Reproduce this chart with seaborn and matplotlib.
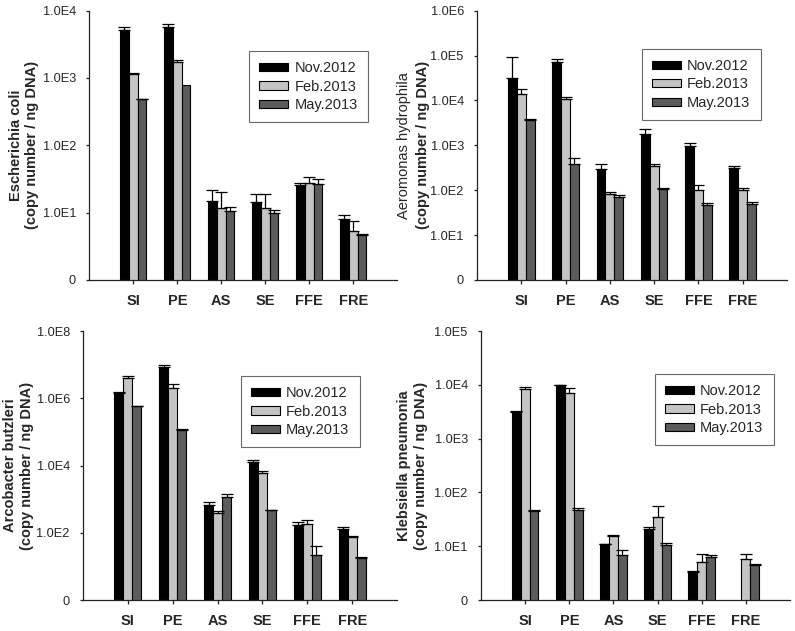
import numpy as np
import pandas as pd
import matplotlib
matplotlib.use('Agg')
import matplotlib.pyplot as plt
import seaborn as sns
from matplotlib.patches import Patch
from matplotlib.ticker import FixedLocator, FixedFormatter, NullLocator

# Data (log scale)
sites = ['SI', 'PE', 'AS', 'SE', 'FFE', 'FRE']
months = ['Nov.2012', 'Feb.2013', 'May.2013']
colors = ['#000000', '#c4c4c4', '#5c5c5c']

# Escherichia coli
ecoli_nov = [5150, 5650, 15.0, 14.4, 25.8, 8.15]
ecoli_feb = [1150, 1700, 11.7, 11.7, 27.3, 5.4]
ecoli_may = [480, 790, 10.7, 9.8, 26.3, 4.6]
ecoli_nov_sd = [500, 690, 6.7, 4.6, 1.7, 1.05]
ecoli_feb_sd = [50, 160, 8.3, 7.3, 6.7, 2.0]
ecoli_may_sd = [15, 0, 1.6, 1.2, 5.3, 0.3]

# Aeromonas hydrophila
aero_nov = [31000, 71600, 301, 1780, 966, 318]
aero_feb = [13600, 10700, 81, 352, 100, 99]
aero_may = [3650, 385, 69.5, 104, 47.5, 48.4]
aero_nov_sd = [64000, 10400, 89, 490, 174, 28]
aero_feb_sd = [4100, 1200, 9, 28, 29, 15]
aero_may_sd = [200, 145, 7.5, 8, 4.5, 7.2]

# Arcobacter butzleri
arco_nov = [1.45e6, 8.7e6, 680, 12700, 176, 131]
arco_feb = [3.9e6, 2.05e6, 384, 5840, 185, 74]
arco_may = [5.8e5, 1.17e5, 1180, 460, 22.5, 17.9]
arco_nov_sd = [1.0e5, 1.3e6, 156, 2300, 31, 13]
arco_feb_sd = [7e5, 6.5e5, 66, 1160, 47, 7]
arco_may_sd = [1e4, 2e3, 200, 10, 17.5, 0.6]

# Klebsiella pneumonia (no Nov value for FRE)
kleb_nov = [3090, 9800, 10.8, 20.8, 3.36, np.nan]
kleb_feb = [8260, 7160, 15.6, 34.7, 5.15, 5.85]
kleb_may = [46, 47.5, 6.85, 10.5, 6.29, 4.47]
kleb_nov_sd = [150, 100, 0.1, 1.5, 0.1, np.nan]
kleb_feb_sd = [1010, 1460, 0.4, 20.9, 1.9, 1.4]
kleb_may_sd = [1, 4.3, 1.65, 0.8, 0.47, 0.13]

sns.set_style('white')
plt.rcParams['font.family'] = ['Liberation Sans', 'DejaVu Sans']

panels = [
    dict(means=[ecoli_nov, ecoli_feb, ecoli_may], sds=[ecoli_nov_sd, ecoli_feb_sd, ecoli_may_sd],
         name='Escherichia coli', exps=[0, 1, 2, 3, 4], top=4,
         rect=[0.1123, 0.5563, 0.3874, 0.4268], labx=-0.162, leg=(0.519, 0.850)),
    dict(means=[aero_nov, aero_feb, aero_may], sds=[aero_nov_sd, aero_feb_sd, aero_may_sd],
         name='Aeromonas hydrophila', exps=[0, 1, 2, 3, 4, 5, 6], top=6,
         rect=[0.6000, 0.5563, 0.3899, 0.4268], labx=-0.152, leg=(0.532, 0.858)),
    dict(means=[arco_nov, arco_feb, arco_may], sds=[arco_nov_sd, arco_feb_sd, arco_may_sd],
         name='Arcobacter butzleri', exps=[0, 2, 4, 6, 8], top=8,
         rect=[0.1044, 0.0491, 0.3950, 0.4263], labx=-0.156, leg=(0.503, 0.833)),
    dict(means=[kleb_nov, kleb_feb, kleb_may], sds=[kleb_nov_sd, kleb_feb_sd, kleb_may_sd],
         name='Klebsiella pneumonia', exps=[0, 1, 2, 3, 4, 5], top=5,
         rect=[0.6050, 0.0491, 0.3887, 0.4263], labx=-0.172, leg=(0.563, 0.840)),
]

fig = plt.figure(figsize=(7.95, 6.31), dpi=100)

for i, p in enumerate(panels):
    ax = fig.add_axes(p['rect'])
    rows = []
    for m, vals, sds in zip(months, p['means'], p['sds']):
        for s, v, e in zip(sites, vals, sds):
            rows.append({'site': s, 'month': m, 'value': v, 'sd': e})
    df = pd.DataFrame(rows)
    sd_lookup = {(r.site, r.month): r.sd for r in df.itertuples()}

    ax.set_yscale('log')
    sns.barplot(data=df.dropna(subset=['value']), x='site', y='value', hue='month',
                order=sites, hue_order=months, palette=colors, width=0.6,
                errorbar=None, edgecolor='black', linewidth=0.8, legend=False, ax=ax)

    # upper error bars from the drawn bars
    for bar in ax.patches:
        h = bar.get_height()
        if not np.isfinite(h) or h <= 0:
            continue
        xc = bar.get_x() + bar.get_width() / 2
        ci = int(round(xc))
        hi = int(round((xc - ci) / 0.2)) + 1
        e = sd_lookup[(sites[ci], months[hi])]
        if e and e > 0:
            ax.errorbar(xc, h, yerr=[[0], [e]], fmt='none', ecolor='black',
                        elinewidth=0.9, capsize=4, capthick=0.9)

    ax.set_xlim(-1, 6)
    ax.set_ylim(1, 10 ** p['top'])
    ax.yaxis.set_major_locator(FixedLocator([10.0 ** k for k in p['exps']]))
    ax.yaxis.set_major_formatter(FixedFormatter(['0' if k == 0 else f'1.0E{k}' for k in p['exps']]))
    ax.yaxis.set_minor_locator(NullLocator())

    for sp in ['top', 'right']:
        ax.spines[sp].set_visible(False)
    for sp in ['left', 'bottom']:
        ax.spines[sp].set_color('#222222')
        ax.spines[sp].set_linewidth(0.9)

    ax.tick_params(axis='y', direction='out', length=2.5, width=0.9, pad=7,
                   labelsize=9.2, left=True, color='#222222')
    ax.tick_params(axis='x', direction='out', length=3, width=0.9, pad=7,
                   labelsize=10.5, bottom=True, color='#222222')
    for lab in ax.get_xticklabels():
        lab.set_fontweight('bold')
    ax.set_xlabel('')

    if i == 1:
        ax.set_ylabel('')
        ax.text(p['labx'] - 0.06, 0.5, p['name'], transform=ax.transAxes, rotation=90,
                rotation_mode='anchor', ha='center', va='bottom', fontsize=10.5)
        ax.text(p['labx'], 0.5, '(copy number / ng DNA)', transform=ax.transAxes, rotation=90,
                rotation_mode='anchor', ha='center', va='bottom', fontsize=10.5, fontweight='bold')
    else:
        ax.set_ylabel(p['name'] + '\n(copy number / ng DNA)', fontsize=10.5,
                      fontweight='bold', linespacing=1.25)
        ax.yaxis.set_label_coords(p['labx'], 0.5)

    handles = [Patch(facecolor=c, edgecolor='black', linewidth=0.8) for c in colors]
    leg = ax.legend(handles, months, loc='upper left', bbox_to_anchor=p['leg'],
                    borderaxespad=0, fontsize=10.5, frameon=True, fancybox=False,
                    edgecolor='#444444', handlelength=2.0, handleheight=0.5,
                    handletextpad=0.4, labelspacing=0.3, borderpad=0.7)
    leg.get_frame().set_linewidth(0.8)

fig.savefig('out.png', dpi=100)
